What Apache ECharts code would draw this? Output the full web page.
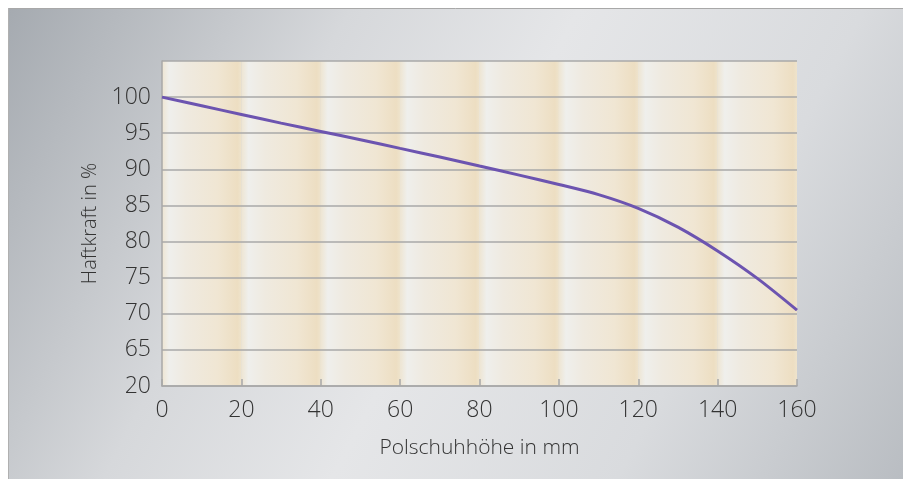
<!DOCTYPE html>
<html><head><meta charset="utf-8">
<script src="https://cdn.jsdelivr.net/npm/echarts@6/dist/echarts.min.js"></script>
<style>html,body{margin:0;padding:0;background:#fff}#c{width:903px;height:479px}</style>
</head><body><div id="c"></div>
<script>
// Data
const polschuhhoehe = [0, 10, 20, 30, 40, 50, 60, 70, 80, 90, 100, 110, 120, 130, 140, 150, 160];
const haftkraft =     [100, 98.8, 97.6, 96.4, 95.25, 94.1, 92.9, 91.7, 90.45, 89.2, 87.9, 86.5, 84.6, 82.0, 78.7, 74.9, 70.5];
const xTicks = [0, 20, 40, 60, 80, 100, 120, 140, 160];
const yTickValues = [60, 65, 70, 75, 80, 85, 90, 95, 100];
const yTickLabels = ['20', '65', '70', '75', '80', '85', '90', '95', '100'];
const xTitle = 'Polschuhhöhe in mm';
const yTitle = 'Haftkraft in %';

const FONT = '"Open Sans", "Liberation Sans", sans-serif';
const bandGrad = {
  type: 'linear', x: 0, y: 0, x2: 1, y2: 0,
  colorStops: [
    {offset: 0, color: '#eee5d2'},
    {offset: 0.09, color: '#efefec'},
    {offset: 0.3, color: '#efeae0'},
    {offset: 0.7, color: '#f0e6d3'},
    {offset: 0.95, color: '#eddec2'},
    {offset: 1, color: '#eee3cc'}
  ]
};
const bands = [];
for (let i = 0; i < xTicks.length - 1; i++) {
  bands.push([{xAxis: xTicks[i], itemStyle: {color: bandGrad}}, {xAxis: xTicks[i + 1]}]);
}

const chart = echarts.init(document.getElementById('c'), null, {renderer: 'canvas'});
chart.setOption({
  animation: false,
  backgroundColor: '#ffffff',
  graphic: [
    {type: 'rect', z: -10, silent: true, shape: {x: 8, y: 8, width: 895, height: 471},
     style: {fill: {type: 'linear', x: 0, y: 0, x2: 1, y2: 1, colorStops: [
       {offset: 0, color: '#a5aab0'},
       {offset: 0.3, color: '#d6d8db'},
       {offset: 0.5, color: '#e5e6e8'},
       {offset: 0.75, color: '#d9dbde'},
       {offset: 1, color: '#b9bdc2'}]}}},
    {type: 'line', z: -9, silent: true, shape: {x1: 8, y1: 8.5, x2: 903, y2: 8.5}, style: {stroke: '#a8a8a8', lineWidth: 1}},
    {type: 'line', z: -9, silent: true, shape: {x1: 8.5, y1: 8, x2: 8.5, y2: 479}, style: {stroke: '#b0b0b0', lineWidth: 1}}
  ],
  grid: {left: 162, right: 106, top: 61, bottom: 93, containLabel: false},
  xAxis: {
    type: 'value', min: 0, max: 160, interval: 20, z: 2,
    name: xTitle, nameLocation: 'middle', nameGap: 52,
    nameTextStyle: {fontFamily: FONT, fontSize: 21, fontWeight: 300, color: '#333'},
    axisLine: {show: true, lineStyle: {color: '#a8a8a8', width: 1.5}},
    axisTick: {show: true, inside: true, length: 7, lineStyle: {color: '#a8a8a8', width: 1.5}},
    axisLabel: {fontFamily: FONT, fontSize: 23, fontWeight: 300, color: '#333', margin: 13},
    splitLine: {show: false}
  },
  yAxis: {
    type: 'value', min: 60, max: 105, interval: 5, z: 2,
    name: yTitle, nameLocation: 'middle', nameGap: 59, nameRotate: 90,
    nameTextStyle: {fontFamily: FONT, fontSize: 20, fontWeight: 300, color: '#333'},
    axisLine: {show: true, lineStyle: {color: '#a8a8a8', width: 1.5}},
    axisTick: {show: false},
    axisLabel: {fontFamily: FONT, fontSize: 23, fontWeight: 300, color: '#333', margin: 11, showMaxLabel: false,
      formatter: v => { const i = yTickValues.indexOf(v); return i >= 0 ? yTickLabels[i] : ''; }},
    splitLine: {show: true, lineStyle: {color: '#a8a8a8', width: 1.5}}
  },
  series: [{
    type: 'line',
    data: [],
    z: -2,
    silent: true,
    markArea: {silent: true, z: -2, data: bands}
  }, {
    type: 'line',
    data: polschuhhoehe.map((x, i) => [x, haftkraft[i]]),
    smooth: 0.3,
    showSymbol: false,
    lineStyle: {color: '#6c54b0', width: 3},
    z: 5
  }]
});
</script></body></html>
